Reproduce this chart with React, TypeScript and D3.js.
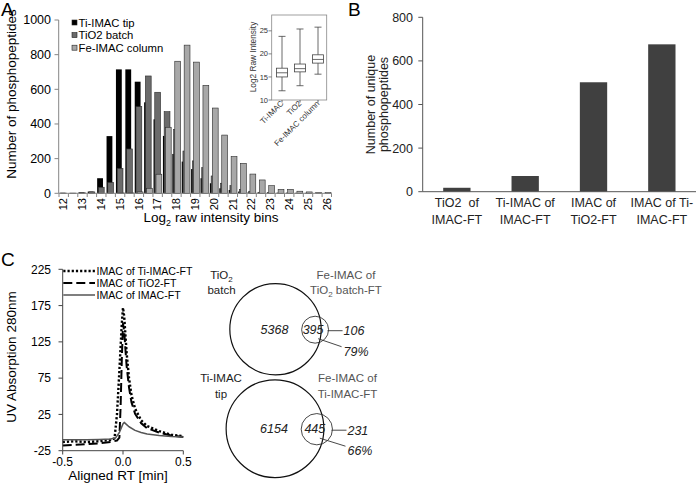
import React from "react";
import * as d3 from "d3";

// ---------- Panel A data ----------
const bins = [12, 12.5, 13, 13.5, 14, 14.5, 15, 15.5, 16, 16.5, 17, 17.5, 18, 18.5, 19, 19.5, 20, 20.5, 21, 21.5, 22, 22.5, 23, 23.5, 24, 24.5, 25, 25.5, 26];
const tiImacTip = [3, 2, 5, 10, 87, 330, 715, 715, 644, 525, 427, 331, 227, 183, 140, 87, 58, 29, 19, 10, 5, 3, 2, 1, 1, 0, 0, 0, 0];
const tio2Batch = [1, 1, 3, 8, 35, 63, 144, 256, 500, 677, 583, 471, 369, 244, 187, 148, 100, 58, 44, 23, 12, 6, 4, 2, 2, 1, 1, 0, 0];
const feImacColumn = [0, 0, 0, 0, 0, 0, 2, 3, 8, 29, 110, 381, 762, 855, 757, 623, 492, 336, 212, 173, 111, 77, 44, 23, 23, 12, 8, 4, 4];
const histSeries = ["Ti-IMAC tip", "TiO2 batch", "Fe-IMAC column"];
const histColors = ["#000000", "#6b6b6b", "#a8a8a8"];
const histYTicks = [0, 200, 400, 600, 800, 1000];

// inset box plot
const boxLabels = ["Ti-IMAC", "TiO2", "Fe-IMAC column"];
const boxMin = [12.0, 13.1, 15.6];
const boxQ1 = [15.0, 16.1, 18.0];
const boxMedian = [15.9, 16.8, 18.8];
const boxQ3 = [16.9, 17.8, 19.8];
const boxMax = [23.8, 25.4, 25.8];
const boxYTicks = [10, 15, 20, 25];

// ---------- Panel B data ----------
const uniqueLine1 = ["TiO2  of", "Ti-IMAC of", "IMAC of", "IMAC of Ti-"];
const uniqueLine2 = ["IMAC-FT", "IMAC-FT", "TiO2-FT", "IMAC-FT"];
const uniqueCounts = [18, 72, 502, 676];
const uniqueYTicks = [0, 200, 400, 600, 800];

// ---------- Panel C data ----------
const rtTi = [-0.5, -0.4, -0.3, -0.2, -0.1, -0.07, -0.05, -0.03, -0.01, 0, 0.01, 0.02, 0.03, 0.05, 0.07, 0.1, 0.15, 0.2, 0.3, 0.4, 0.5];
const uvTi = [-13, -12, -13, -12, -10, -8, 25, 85, 150, 172, 160, 135, 110, 75, 52, 33, 17, 9, 2, -3, -5];
const rtTio2 = [-0.5, -0.4, -0.3, -0.2, -0.1, -0.05, -0.03, -0.02, -0.01, 0, 0.01, 0.02, 0.03, 0.05, 0.07, 0.1, 0.15, 0.2, 0.3, 0.4, 0.5];
const uvTio2 = [-18, -17, -16, -15, -13, -11, -7, 35, 100, 150, 140, 115, 92, 62, 42, 26, 13, 6, 0, -4, -6];
const rtImac = [-0.5, -0.4, -0.3, -0.2, -0.1, -0.06, -0.03, 0, 0.01, 0.03, 0.05, 0.1, 0.15, 0.2, 0.3, 0.4, 0.5];
const uvImac = [-10, -10, -10, -9.5, -9, -7, 0, 12, 14, 11, 8, 3, 0, -2, -4, -5.5, -6];
const uvLegend = ["IMAC of Ti-IMAC-FT", "IMAC of TiO2-FT", "IMAC of IMAC-FT"];
const uvYTicks = [-25, 25, 75, 125, 175, 225];
const rtTicks = [-0.5, 0, 0.5];

// ---------- Venn data ----------
const vennBig = [5368, 6154];
const vennOverlap = [395, 445];
const vennOnly = [106, 231];
const vennPct = ["79%", "66%"];

const FONT = "'Liberation Sans', Arial, sans-serif";

export default function App() {
  // ===== Panel A =====
  const xA = d3.scaleBand<string>().domain(bins.map(String)).range([59, 331.5]).padding(0);
  const yA = d3.scaleLinear().domain([0, 1000]).range([193.3, 20]);
  const bwA = xA.bandwidth();
  const barW = bwA * 0.62;
  const stepA = bwA * 0.13;
  const clusterW = barW + 2 * stepA;
  const seriesA = [tiImacTip, tio2Batch, feImacColumn];

  // inset
  const xI = d3.scaleBand<string>().domain(boxLabels).range([273, 327]);
  const yI = d3.scaleLinear().domain([10, 28]).range([100, 17]);

  // ===== Panel B =====
  const xB = d3.scaleBand<string>().domain(uniqueLine1).range([422.7, 696]).paddingInner(0.6).paddingOuter(0.3);
  const yB = d3.scaleLinear().domain([0, 800]).range([191.7, 17.3]);

  // ===== Panel C =====
  const xC = d3.scaleLinear().domain([-0.5, 0.5]).range([62.7, 183.3]);
  const yC = d3.scaleLinear().domain([-25, 225]).range([450.7, 269.3]);
  const line = d3.line<[number, number]>().x((d) => xC(d[0])).y((d) => yC(d[1]));
  const uvSeries = [
    { pts: rtTi.map((r, i) => [r, uvTi[i]] as [number, number]), stroke: "#000", width: 2.4, dash: "2.2,2" },
    { pts: rtTio2.map((r, i) => [r, uvTio2[i]] as [number, number]), stroke: "#000", width: 2, dash: "9,4" },
    { pts: rtImac.map((r, i) => [r, uvImac[i]] as [number, number]), stroke: "#555", width: 1.5, dash: "none" },
  ];

  // ===== Venn =====
  const rScale = d3.scaleSqrt().domain([0, 6000]).range([0, 46.6]);
  const vennCenters = [
    { cx: 275.5, cy: 329.2 },
    { cx: 275, cy: 428.7 },
  ];

  return (
    <svg width={696} height={488} style={{ position: "absolute", left: 0, top: 0, background: "#fff" }} fontFamily={FONT}>
      <rect x={0} y={0} width={696} height={488} fill="#fff" />

      {/* ================= Panel A ================= */}
      <text x={1} y={16} fontSize={19}>A</text>
      <text transform="translate(16,94) rotate(-90)" textAnchor="middle" fontSize={13.5}>Number of phosphopeptides</text>
      {/* bars */}
      {seriesA.map((vals, s) =>
        vals.map((v, i) => {
          const x0 = xA(String(bins[i]))! + (bwA - clusterW) / 2 + s * stepA;
          return (
            <rect
              key={`a${s}-${i}`}
              x={x0}
              y={yA(v)}
              width={barW}
              height={yA(0) - yA(v)}
              fill={histColors[s]}
              stroke={s === 0 ? "none" : "#2a2a2a"}
              strokeWidth={0.6}
            />
          );
        })
      )}
      {/* y axis */}
      <line x1={58.7} x2={58.7} y1={20} y2={193.3} stroke="#858585" />
      {histYTicks.map((t) => (
        <g key={`ay${t}`}>
          <line x1={54.5} x2={58.7} y1={yA(t)} y2={yA(t)} stroke="#858585" />
          <text x={51} y={yA(t) + 4.3} textAnchor="end" fontSize={12.5}>{t}</text>
        </g>
      ))}
      {/* x axis */}
      <line x1={58.7} x2={331.5} y1={193.3} y2={193.3} stroke="#858585" />
      {d3.range(bins.length + 1).map((k) => {
        const xx = k < bins.length ? xA(String(bins[k]))! : 331.5;
        return <line key={`axt${k}`} x1={xx} x2={xx} y1={193.3} y2={197} stroke="#858585" />;
      })}
      {bins.filter((b) => Number.isInteger(b)).map((b) => (
        <text
          key={`axl${b}`}
          transform={`translate(${xA(String(b))! + bwA / 2 + 3.8},198) rotate(-90)`}
          textAnchor="end"
          fontSize={11}
        >
          {b}
        </text>
      ))}
      <text x={211} y={222} textAnchor="middle" fontSize={13.5}>
        <tspan>Log</tspan>
        <tspan dy={3.5} fontSize={9}>2</tspan>
        <tspan dy={-3.5}> raw intensity bins</tspan>
      </text>
      {/* legend */}
      {histSeries.map((s, i) => (
        <g key={`al${i}`}>
          <rect x={72} y={20 + i * 12.6} width={5} height={5} fill={histColors[i]} stroke="#222" strokeWidth={0.6} />
          <text x={78.5} y={26.5 + i * 12.6} fontSize={11.3}>{s}</text>
        </g>
      ))}

      {/* inset box plot */}
      <rect x={271.7} y={15} width={55} height={85} fill="#fff" stroke="#888" strokeWidth={0.8} />
      {boxYTicks.map((t) => (
        <g key={`iy${t}`}>
          <line x1={268.5} x2={271.7} y1={yI(t)} y2={yI(t)} stroke="#666" strokeWidth={0.8} />
          <text x={268} y={yI(t) + 2.6} textAnchor="end" fontSize={7.5} fill="#333">{t}</text>
        </g>
      ))}
      <text transform="translate(256,57) rotate(-90)" textAnchor="middle" fontSize={8.3} fill="#333">Log2 Raw Intensity</text>
      {boxLabels.map((lab, i) => {
        const cx = xI(lab)! + xI.bandwidth() / 2;
        const bw = 11;
        const cap = 7;
        return (
          <g key={`box${i}`} stroke="#444" strokeWidth={0.8} fill="none">
            <line x1={cx} x2={cx} y1={yI(boxMax[i])} y2={yI(boxQ3[i])} />
            <line x1={cx} x2={cx} y1={yI(boxQ1[i])} y2={yI(boxMin[i])} />
            <line x1={cx - cap / 2} x2={cx + cap / 2} y1={yI(boxMax[i])} y2={yI(boxMax[i])} />
            <line x1={cx - cap / 2} x2={cx + cap / 2} y1={yI(boxMin[i])} y2={yI(boxMin[i])} />
            <rect x={cx - bw / 2} y={yI(boxQ3[i])} width={bw} height={yI(boxQ1[i]) - yI(boxQ3[i])} fill="#fff" />
            <line x1={cx - bw / 2} x2={cx + bw / 2} y1={yI(boxMedian[i])} y2={yI(boxMedian[i])} />
            <line x1={cx} x2={cx} y1={100} y2={102.5} />
            <text
              transform={`translate(${cx + 2},104) rotate(-45)`}
              textAnchor="end"
              fontSize={8}
              fill="#333"
              stroke="none"
            >
              {lab}
            </text>
          </g>
        );
      })}

      {/* ================= Panel B ================= */}
      <text x={348} y={16} fontSize={19}>B</text>
      <text transform="translate(374.5,104.5) rotate(-90)" textAnchor="middle" fontSize={12.5} fill="#222">
        Number of unique
      </text>
      <text transform="translate(388,104.5) rotate(-90)" textAnchor="middle" fontSize={12.5} fill="#222">
        phosphopeptides
      </text>
      {uniqueCounts.map((v, i) => (
        <rect
          key={`b${i}`}
          x={xB(uniqueLine1[i])!}
          y={yB(v)}
          width={xB.bandwidth()}
          height={yB(0) - yB(v)}
          fill="#404040"
        />
      ))}
      <line x1={422.7} x2={422.7} y1={17.3} y2={191.7} stroke="#555" />
      {uniqueYTicks.map((t) => (
        <g key={`by${t}`}>
          <line x1={418.3} x2={422.7} y1={yB(t)} y2={yB(t)} stroke="#555" />
          <text x={413} y={yB(t) + 4.4} textAnchor="end" fontSize={12.5} fill="#222">{t}</text>
        </g>
      ))}
      <line x1={422.7} x2={696} y1={191.7} y2={191.7} stroke="#555" />
      {uniqueLine1.map((l, i) => {
        const cx = xB(l)! + xB.bandwidth() / 2;
        return (
          <g key={`bl${i}`}>
            <text x={cx} y={207} textAnchor="middle" fontSize={12.5} fill="#222" style={{ whiteSpace: "pre" }}>{l}</text>
            <text x={cx} y={224} textAnchor="middle" fontSize={12.5} fill="#222">{uniqueLine2[i]}</text>
          </g>
        );
      })}

      {/* ================= Panel C ================= */}
      <text x={1} y={266} fontSize={19}>C</text>
      <text transform="translate(16,357) rotate(-90)" textAnchor="middle" fontSize={13.5}>UV Absorption 280nm</text>
      {uvSeries.map((s, i) => (
        <path
          key={`uv${i}`}
          d={line(s.pts)!}
          fill="none"
          stroke={s.stroke}
          strokeWidth={s.width}
          strokeDasharray={s.dash}
          strokeLinejoin="round"
        />
      ))}
      <line x1={62.7} x2={62.7} y1={269.3} y2={450.7} stroke="#444" />
      {uvYTicks.map((t) => (
        <g key={`cy${t}`}>
          <line x1={58.5} x2={62.7} y1={yC(t)} y2={yC(t)} stroke="#444" />
          <text x={51} y={yC(t) + 4.3} textAnchor="end" fontSize={12}>{t}</text>
        </g>
      ))}
      <line x1={62.7} x2={183.3} y1={450.7} y2={450.7} stroke="#444" />
      {rtTicks.map((t) => (
        <g key={`cx${t}`}>
          <line x1={xC(t)} x2={xC(t)} y1={450.7} y2={454.5} stroke="#444" />
          <text x={xC(t)} y={465.5} textAnchor="middle" fontSize={12}>{t.toFixed(1)}</text>
        </g>
      ))}
      <text x={118} y={480} textAnchor="middle" fontSize={13.5}>Aligned RT [min]</text>
      {uvLegend.map((lab, i) => (
        <g key={`cl${i}`}>
          <line
            x1={63.3}
            x2={95}
            y1={271 + i * 12}
            y2={271 + i * 12}
            stroke={uvSeries[i].stroke}
            strokeWidth={uvSeries[i].width}
            strokeDasharray={uvSeries[i].dash}
          />
          <text x={96.5} y={274.8 + i * 12} fontSize={10.6}>{lab}</text>
        </g>
      ))}

      {/* ================= Venn diagrams ================= */}
      {vennBig.map((big, i) => {
        const R = rScale(big + vennOverlap[i]);
        const r = rScale(vennOverlap[i] + vennOnly[i]);
        const { cx, cy } = vennCenters[i];
        const scx = cx + R - 0.45 * r;
        return (
          <g key={`v${i}`}>
            <circle cx={cx} cy={cy} r={R} fill="none" stroke="#111" strokeWidth={1.2} />
            <circle cx={scx} cy={cy + 0.5} r={r} fill="none" stroke="#333" strokeWidth={0.9} />
            <text x={cx - 1} y={cy + 4.3} textAnchor="middle" fontSize={12.5} fontStyle="italic" fill="#222">{big}</text>
            <text x={scx - 2} y={cy + 4.3} textAnchor="middle" fontSize={12.5} fontStyle="italic" fill="#222">{vennOverlap[i]}</text>
            <line x1={scx + r - 1} x2={scx + r + 14} y1={cy + 1.5} y2={cy + 1.5} stroke="#333" strokeWidth={0.9} />
            <text x={scx + r + 15} y={cy + 6} fontSize={12.5} fontStyle="italic" fill="#222">{vennOnly[i]}</text>
            <line x1={scx + 3} x2={scx + r + 13} y1={cy + 9.5} y2={cy + 17.5} stroke="#333" strokeWidth={0.9} />
            <text x={scx + r + 15} y={cy + 26.5} fontSize={12.5} fontStyle="italic" fill="#222">{vennPct[i]}</text>
          </g>
        );
      })}
      <text x={221.5} y={279} textAnchor="middle" fontSize={11.5} fill="#222">
        <tspan>TiO</tspan>
        <tspan dy={3} fontSize={8}>2</tspan>
      </text>
      <text x={221.5} y={294} textAnchor="middle" fontSize={11.5} fill="#222">batch</text>
      <text x={346} y={279} textAnchor="middle" fontSize={11.5} fill="#555">Fe-IMAC of</text>
      <text x={346} y={294} textAnchor="middle" fontSize={11.5} fill="#555">
        <tspan>TiO</tspan>
        <tspan dy={3} fontSize={8}>2</tspan>
        <tspan dy={-3}> batch-FT</tspan>
      </text>
      <text x={221} y={382} textAnchor="middle" fontSize={11.5} fill="#222">Ti-IMAC</text>
      <text x={221} y={398} textAnchor="middle" fontSize={11.5} fill="#222">tip</text>
      <text x={347.5} y={382} textAnchor="middle" fontSize={11.5} fill="#555">Fe-IMAC of</text>
      <text x={347.5} y={398} textAnchor="middle" fontSize={11.5} fill="#555">Ti-IMAC-FT</text>
    </svg>
  );
}
